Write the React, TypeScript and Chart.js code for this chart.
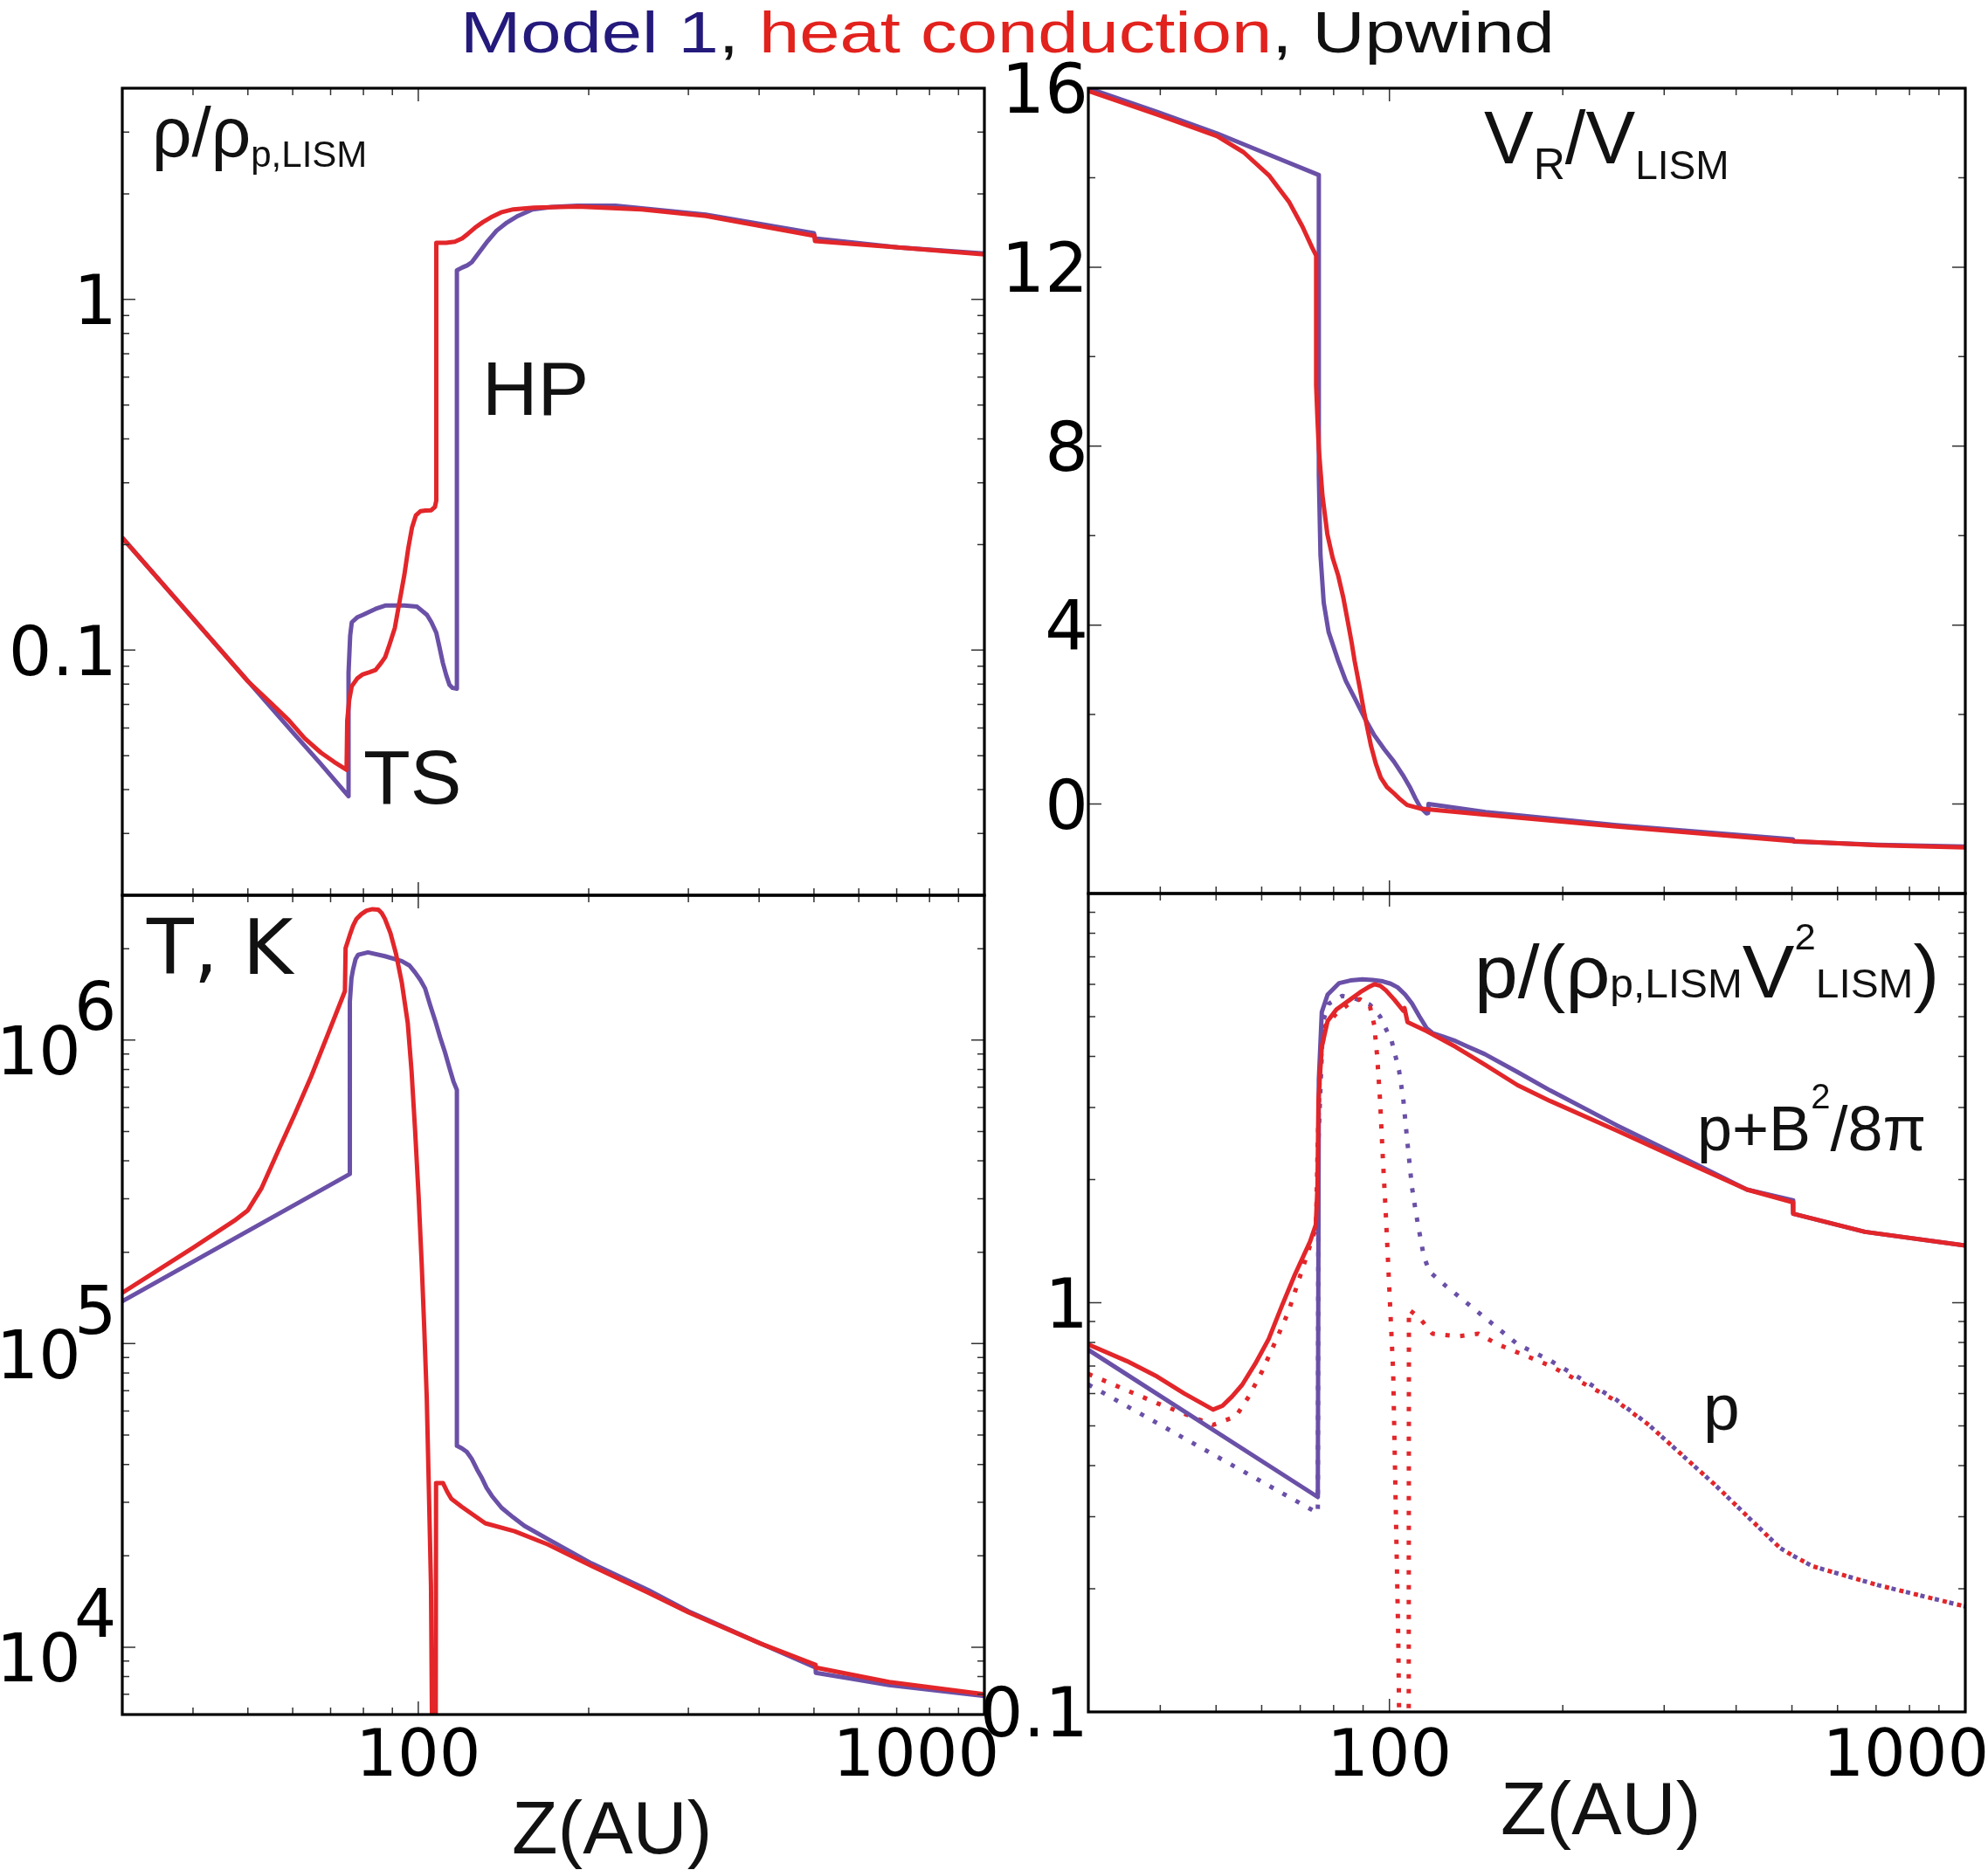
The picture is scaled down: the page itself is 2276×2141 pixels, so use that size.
import { useEffect, useRef } from 'react';
import type { ReactNode } from 'react';
import { Chart, registerables } from 'chart.js';
import type { ChartConfiguration, Plugin } from 'chart.js';

Chart.register(...registerables);

const PAGE_W = 2276;
const PAGE_H = 2141;

const MODEL1_COLOR = '#6a50a7';
const HEAT_COLOR = '#e2262a';
const TICK_FONT = '"DejaVu Sans", sans-serif';
const TEXT_FONT = '"Liberation Sans", Arial, sans-serif';

type Pt = [number, number];

// Z axis (AU), the same for all four panels
const zMin = 30;
const zMax = 1000;
const zTicks = [40, 50, 60, 70, 80, 90, 100, 200, 300, 400, 500, 600, 700, 800, 900, 1000];
const zLabels = [100, 1000];

// density rho / rho_p,LISM
const rhoTicks = [0.02, 0.03, 0.04, 0.05, 0.06, 0.07, 0.08, 0.09, 0.1, 0.2, 0.3, 0.4, 0.5, 0.6, 0.7, 0.8, 0.9, 1, 2, 3, 4];
const rhoLabels = [0.1, 1];
const rhoModel1: Pt[] = [
  [30, 0.209], [40, 0.123], [52, 0.0759], [60, 0.0583], [67, 0.0477], [75.3, 0.0383],
  [75.3, 0.0861], [75.8, 0.11], [76.3, 0.12], [78, 0.124], [79.8, 0.126], [84, 0.131],
  [87.4, 0.134], [94.5, 0.134], [99.5, 0.133], [103.6, 0.126], [105.5, 0.12], [107.6, 0.112],
  [109, 0.102], [110.5, 0.092], [112, 0.085], [113.5, 0.0797], [115, 0.078], [117, 0.0776],
  [117, 1.21], [119.5, 1.232], [122, 1.25], [124.3, 1.276], [128, 1.36], [132.6, 1.466],
  [137.5, 1.57], [143.4, 1.656], [150, 1.73], [159.2, 1.806], [172, 1.835], [191, 1.85],
  [223, 1.85], [322, 1.745], [500, 1.545], [502, 1.492], [704, 1.406], [1000, 1.352],
];
const rhoHeat: Pt[] = [
  [30, 0.209], [40, 0.123], [50, 0.0815], [55, 0.0705], [59.1, 0.063], [63, 0.056],
  [67.3, 0.051], [71, 0.048], [74.7, 0.0456], [74.9, 0.063], [75.5, 0.072], [76.3, 0.0789],
  [78, 0.083], [79.8, 0.0853], [82, 0.0865], [84, 0.0877], [86, 0.092], [87.4, 0.0955],
  [89, 0.104], [90.9, 0.1157], [92.7, 0.138], [94.5, 0.164], [96, 0.195], [97.5, 0.224],
  [99, 0.242], [100.9, 0.249], [103, 0.25], [105.4, 0.2505], [107, 0.256], [107.6, 0.267],
  [107.6, 1.45], [112, 1.45], [116, 1.46], [119.5, 1.492], [122.5, 1.54], [125.9, 1.6],
  [130, 1.66], [134.4, 1.714], [140, 1.77], [147.2, 1.806], [160, 1.825], [191, 1.838],
  [248, 1.806], [322, 1.73], [501, 1.518], [502, 1.466], [704, 1.406], [1000, 1.344],
];

// radial velocity V_R / V_LISM
const vTicks = [-2, 0, 2, 4, 6, 8, 10, 12, 14, 16];
const vLabels = [0, 4, 8, 12, 16];
const vModel1: Pt[] = [
  [30, 16.0], [39.7, 15.46], [50.2, 14.99], [60.3, 14.57], [75.4, 14.06], [75.4, 7.35],
  [75.9, 5.57], [76.9, 4.5], [78.4, 3.85], [81.5, 3.2], [84, 2.75], [87, 2.37], [90.5, 1.93],
  [94.1, 1.54], [98, 1.22], [101.8, 0.95], [105.5, 0.65], [108.7, 0.36], [111, 0.12],
  [113, -0.06], [116, -0.21], [116.7, -0.2], [116.9, 0.0], [146.9, -0.18], [247.9, -0.47],
  [502, -0.79], [504, -0.84], [706, -0.91], [1000, -0.95],
];
const vHeat: Pt[] = [
  [30, 15.94], [39.7, 15.4], [50.2, 14.93], [55.8, 14.57], [61.9, 14.04], [67, 13.45],
  [70.6, 12.91], [73.4, 12.44], [74.6, 12.26], [74.6, 9.36], [75.0, 8.6], [75.4, 7.94],
  [76.5, 6.9], [78, 6.04], [79.7, 5.5], [81.5, 5.1], [83.2, 4.6], [84.8, 4.03], [86, 3.6],
  [87, 3.2], [88.8, 2.6], [90.5, 2.01], [92.9, 1.3], [94.7, 0.9], [96.6, 0.59], [99, 0.38],
  [101.8, 0.24], [104.5, 0.1], [107.3, -0.02], [113, -0.1], [146.9, -0.24], [247.9, -0.5],
  [502, -0.83], [706, -0.92], [1000, -0.97],
];

// temperature T, K
const tTicks = [
  6000, 7000, 8000, 9000, 1e4, 2e4, 3e4, 4e4, 5e4, 6e4, 7e4, 8e4, 9e4, 1e5,
  2e5, 3e5, 4e5, 5e5, 6e5, 7e5, 8e5, 9e5, 1e6, 2e6, 3e6,
];
const tLabels = [1e4, 1e5, 1e6];
const tModel1: Pt[] = [
  [30, 1.38e5], [75.7, 3.62e5], [75.7, 1.34e6], [76.2, 1.6e6], [76.7, 1.71e6], [77.5, 1.85e6],
  [78.3, 1.91e6], [81.5, 1.945e6], [87.3, 1.89e6], [93.5, 1.82e6], [96.5, 1.76e6], [98.7, 1.67e6],
  [100.8, 1.58e6], [102.8, 1.48e6], [105, 1.3e6], [107.1, 1.16e6], [109.3, 1.02e6], [111.5, 9.1e5],
  [113.5, 8.1e5], [115.4, 7.3e5], [117, 6.85e5], [117, 4.61e4], [119.4, 4.52e4], [121.8, 4.4e4],
  [124.3, 4.17e4], [127, 3.85e4], [129.6, 3.6e4], [132, 3.35e4], [134.9, 3.15e4], [140.3, 2.88e4],
  [147, 2.68e4], [154, 2.51e4], [169.4, 2.27e4], [202.2, 1.89e4], [254.8, 1.543e4], [300, 1.313e4],
  [401.9, 1.029e4], [503.3, 8570], [503.8, 8230], [576.5, 7900], [678.6, 7500], [1000, 6910],
];
const tHeat: Pt[] = [
  [30, 1.47e5], [40, 2.07e5], [47.3, 2.54e5], [50, 2.75e5], [52.8, 3.24e5], [56.5, 4.3e5],
  [60.5, 5.7e5], [64.7, 7.6e5], [69.3, 1.05e6], [74.2, 1.45e6], [74.4, 2.01e6], [75.7, 2.22e6],
  [76.7, 2.38e6], [77.8, 2.51e6], [79.3, 2.6e6], [81, 2.67e6], [83, 2.7e6], [85, 2.69e6],
  [86.2, 2.62e6], [87.3, 2.51e6], [89.3, 2.25e6], [91.3, 1.93e6], [93.5, 1.55e6], [95.8, 1.14e6],
  [97.3, 7.9e5], [98.7, 5.06e5], [100.1, 3.1e5], [101.4, 1.83e5], [102.5, 1.1e5], [103.5, 6.65e4],
  [104.4, 3.3e4], [105.3, 1.6e4], [106.0, 3000], [107.3, 3000], [107.5, 3.47e4], [110.6, 3.47e4],
  [112.5, 3.25e4], [114.4, 3.08e4], [119.4, 2.9e4], [131.3, 2.56e4], [147.9, 2.41e4], [169.4, 2.18e4],
  [202.2, 1.853e4], [254.8, 1.512e4], [300, 1.302e4], [401.9, 1.029e4], [503.3, 8750], [503.8, 8570],
  [678.6, 7680], [1000, 7000],
];

// pressure p / (rho_p,LISM V^2_LISM)
const pTicks = [0.1, 0.2, 0.3, 0.4, 0.5, 0.6, 0.7, 0.8, 0.9, 1, 2, 3, 4, 5, 6, 7, 8, 9, 10];
const pLabels = [0.1, 1];
const pTotalModel1: Pt[] = [
  [30, 0.767], [75.1, 0.335], [75.4, 3.5], [76.3, 5.13], [78.1, 5.66], [81.8, 6.04],
  [85.5, 6.13], [89.8, 6.17], [93.5, 6.15], [97.4, 6.1], [100.5, 6.02], [103.3, 5.9], [106.5, 5.66],
  [109.4, 5.39], [112.8, 5.0], [116, 4.69], [118.8, 4.56], [124, 4.47], [130.3, 4.36], [137, 4.22],
  [146.4, 4.05], [167, 3.66], [190.3, 3.3], [247.4, 2.72], [321.5, 2.27], [417.8, 1.89], [501.8, 1.78],
  [502.5, 1.65], [669.6, 1.49], [1000, 1.38],
];
const pTotalHeat: Pt[] = [
  [30, 0.791], [35, 0.72], [39.5, 0.66], [44, 0.6], [49.4, 0.548], [51.3, 0.56], [53.3, 0.59],
  [55.5, 0.63], [58.5, 0.71], [61.7, 0.815], [65, 0.98], [68.5, 1.17], [72.8, 1.41], [74.5, 1.55],
  [75.0, 1.92], [75.3, 3.14], [76.3, 4.22], [78.1, 4.88], [80.9, 5.21], [85.7, 5.52], [89, 5.74],
  [91.9, 5.9], [94.1, 6.0], [96.4, 5.95], [98.6, 5.8], [102, 5.5], [105.7, 5.17], [106.2, 5.25],
  [107.5, 4.85], [116, 4.61], [130.3, 4.22], [146.4, 3.82], [167, 3.4], [190.3, 3.11], [247.4, 2.64],
  [321.5, 2.23], [417.8, 1.89], [501.8, 1.76], [502.5, 1.65], [669.6, 1.49], [1000, 1.38],
];
const pThermalModel1: Pt[] = [
  [30, 0.631], [75.1, 0.306], [75.3, 2.5], [76.7, 4.88], [78.5, 5.38], [82.8, 5.62], [87.7, 5.52],
  [92.5, 5.35], [96.3, 5.01], [100.9, 4.36], [103.9, 3.7], [105.7, 3.14], [107.5, 2.45], [109.4, 1.92],
  [111.4, 1.63], [114.7, 1.3], [117.4, 1.19], [125.2, 1.1], [135.4, 1.006], [146.5, 0.919],
  [167, 0.791], [190.3, 0.722], [247.4, 0.58], [282, 0.503], [366, 0.361], [476, 0.252],
  [501.8, 0.241], [543, 0.227], [706, 0.204], [1000, 0.181],
];
const pThermalHeat: Pt[] = [
  [30, 0.67], [39.5, 0.568], [49.4, 0.503], [54.1, 0.527], [57, 0.59], [60.1, 0.68], [63.3, 0.8],
  [66.7, 0.947], [70.5, 1.2], [74.1, 1.488], [74.6, 1.6], [75.1, 2.5], [75.8, 3.8], [77.2, 4.73],
  [80.9, 5.09], [84.7, 5.35], [88.8, 5.52], [92.5, 5.3], [94.1, 4.77], [95.2, 4.01], [96.3, 3.14],
  [97.4, 2.26], [98.6, 1.63], [99.7, 1.17], [101.5, 0.68], [103.6, 0.151], [104.5, 0.05], [108, 0.05],
  [108.1, 0.962], [112.7, 0.919], [118.8, 0.84], [131.9, 0.828], [142.7, 0.84], [154.3, 0.791],
  [190.3, 0.701], [247.4, 0.576], [282, 0.503], [366, 0.361], [476, 0.252], [501.8, 0.241],
  [543, 0.227], [706, 0.204], [1000, 0.181],
];

type Series = { data: Pt[]; color: string; dotted?: boolean; order: number };

type Panel = {
  id: string;
  box: { x: number; y: number; w: number; h: number };
  area: { left: number; top: number; right: number; bottom: number };
  yType: 'logarithmic' | 'linear';
  yMin: number;
  yMax: number;
  yTicks: number[];
  yLabels: number[];
  powLabels?: boolean;
  showZLabels: boolean;
  zOverflow: number;
  yInkRight: number;
  series: Series[];
};

const Z_LABEL_BASELINE = 2033;

const panels: Panel[] = [
  {
    id: 'rho',
    box: { x: 0, y: 60, w: 1200, h: 1000 },
    area: { left: 140, top: 101, right: 1127, bottom: 1025 },
    yType: 'logarithmic', yMin: 0.02, yMax: 4,
    yTicks: rhoTicks, yLabels: rhoLabels,
    showZLabels: false, zOverflow: 12, yInkRight: 128,
    series: [
      { data: rhoModel1, color: MODEL1_COLOR, order: 1 },
      { data: rhoHeat, color: HEAT_COLOR, order: 0 },
    ],
  },
  {
    id: 'v',
    box: { x: 1100, y: 60, w: 1176, h: 1000 },
    area: { left: 1246, top: 101, right: 2250, bottom: 1023 },
    yType: 'linear', yMin: -2, yMax: 16,
    yTicks: vTicks, yLabels: vLabels,
    showZLabels: false, zOverflow: 22, yInkRight: 1240,
    series: [
      { data: vModel1, color: MODEL1_COLOR, order: 1 },
      { data: vHeat, color: HEAT_COLOR, order: 0 },
    ],
  },
  {
    id: 't',
    box: { x: 0, y: 1000, w: 1200, h: 1141 },
    area: { left: 140, top: 1025, right: 1127, bottom: 1963 },
    yType: 'logarithmic', yMin: 6000, yMax: 3e6,
    yTicks: tTicks, yLabels: tLabels, powLabels: true,
    showZLabels: true, zOverflow: 12, yInkRight: 128,
    series: [
      { data: tModel1, color: MODEL1_COLOR, order: 1 },
      { data: tHeat, color: HEAT_COLOR, order: 0 },
    ],
  },
  {
    id: 'p',
    box: { x: 1100, y: 1000, w: 1176, h: 1141 },
    area: { left: 1246, top: 1023, right: 2250, bottom: 1960 },
    yType: 'logarithmic', yMin: 0.1, yMax: 10,
    yTicks: pTicks, yLabels: pLabels,
    showZLabels: true, zOverflow: 22, yInkRight: 1240,
    series: [
      { data: pThermalModel1, color: MODEL1_COLOR, dotted: true, order: 3 },
      { data: pThermalHeat, color: HEAT_COLOR, dotted: true, order: 2 },
      { data: pTotalModel1, color: MODEL1_COLOR, order: 1 },
      { data: pTotalHeat, color: HEAT_COLOR, order: 0 },
    ],
  },
];

// frame, inward ticks on all four sides, and tick labels
function framePlugin(p: Panel): Plugin<'line'> {
  return {
    id: 'frame_' + p.id,
    afterDatasetsDraw(chart) {
      const { ctx, chartArea: a } = chart;
      const xs = chart.scales.x;
      const ys = chart.scales.y;
      ctx.save();
      ctx.strokeStyle = '#333';
      ctx.lineWidth = 1.5;
      ctx.beginPath();
      for (const v of zTicks) {
        const px = xs.getPixelForValue(v);
        const len = zLabels.includes(v) ? 15 : 8;
        ctx.moveTo(px, a.bottom);
        ctx.lineTo(px, a.bottom - len);
        ctx.moveTo(px, a.top);
        ctx.lineTo(px, a.top + len);
      }
      for (const v of p.yTicks) {
        const py = ys.getPixelForValue(v);
        const len = p.yLabels.includes(v) ? 15 : 8;
        ctx.moveTo(a.left, py);
        ctx.lineTo(a.left + len, py);
        ctx.moveTo(a.right, py);
        ctx.lineTo(a.right - len, py);
      }
      ctx.stroke();

      ctx.strokeStyle = '#000';
      ctx.lineWidth = 3.2;
      ctx.strokeRect(a.left, a.top, a.right - a.left, a.bottom - a.top);

      ctx.fillStyle = '#000';
      ctx.textBaseline = 'alphabetic';
      if (p.showZLabels) {
        const fs = 75;
        ctx.font = `${fs}px ${TICK_FONT}`;
        ctx.textAlign = 'center';
        for (const v of zLabels) {
          const s = String(v);
          const w = ctx.measureText(s).width;
          const cx = Math.min(xs.getPixelForValue(v), a.right + p.zOverflow - w / 2 + 0.07 * fs);
          ctx.fillText(s, cx, Z_LABEL_BASELINE - p.box.y);
        }
      }

      const right = p.yInkRight - p.box.x;
      for (const v of p.yLabels) {
        const py = ys.getPixelForValue(v);
        if (p.powLabels) {
          const fs = 76;
          ctx.font = `${fs}px ${TICK_FONT}`;
          ctx.textAlign = 'left';
          const exp = String(Math.round(Math.log10(v)));
          const wb = ctx.measureText('10').width - 0.1 * fs;
          const we = ctx.measureText(exp).width - 0.07 * fs;
          const x = right - wb - we;
          ctx.fillText('10', x, py + 0.52 * fs);
          ctx.fillText(exp, x + wb, py - 0.15 * fs);
        } else {
          const fs = 78;
          ctx.font = `${fs}px ${TICK_FONT}`;
          ctx.textAlign = 'right';
          ctx.fillText(String(v), right + 0.075 * fs, py + 0.3645 * fs);
        }
      }
      ctx.restore();
    },
  };
}

function buildConfig(p: Panel): ChartConfiguration<'line'> {
  return {
    type: 'line',
    data: {
      datasets: p.series.map((s) => ({
        data: s.data.map(([x, y]) => ({ x, y })),
        borderColor: s.color,
        borderWidth: 5,
        borderDash: s.dotted ? [5, 12] : [],
        borderJoinStyle: 'round',
        pointRadius: 0,
        fill: false,
        tension: 0,
        order: s.order,
      })),
    },
    options: {
      animation: false,
      responsive: false,
      devicePixelRatio: 1,
      events: [],
      layout: {
        padding: {
          left: p.area.left - p.box.x,
          top: p.area.top - p.box.y,
          right: p.box.x + p.box.w - p.area.right,
          bottom: p.box.y + p.box.h - p.area.bottom,
        },
      },
      plugins: { legend: { display: false }, tooltip: { enabled: false } },
      scales: {
        x: { type: 'logarithmic', min: zMin, max: zMax, display: false },
        y: { type: p.yType, min: p.yMin, max: p.yMax, display: false },
      },
    },
    plugins: [framePlugin(p)],
  };
}

function PanelChart({ panel }: { panel: Panel }) {
  const canvasRef = useRef<HTMLCanvasElement>(null);

  useEffect(() => {
    if (!canvasRef.current) return;
    const chart = new Chart(canvasRef.current, buildConfig(panel));
    return () => chart.destroy();
  }, [panel]);

  const { x, y, w, h } = panel.box;
  return (
    <canvas
      ref={canvasRef}
      width={w}
      height={h}
      style={{ position: 'absolute', left: x, top: y, width: w, height: h }}
    />
  );
}

type LabelProps = { x: number; base: number; size: number; font?: string; sx?: number; children: ReactNode };

// text placed by its baseline (line-height 1)
function Label({ x, base, size, font = TEXT_FONT, sx = 1, children }: LabelProps) {
  return (
    <div
      style={{
        position: 'absolute',
        left: x,
        top: base - 0.8465 * size,
        fontSize: size,
        lineHeight: 1,
        fontFamily: font,
        whiteSpace: 'nowrap',
        color: '#111',
        transform: sx !== 1 ? `scaleX(${sx})` : undefined,
        transformOrigin: '0 0',
      }}
    >
      {children}
    </div>
  );
}

function Shift({ size, dy = 0, children }: { size: number; dy?: number; children: ReactNode }) {
  return <span style={{ fontSize: size, position: 'relative', top: dy }}>{children}</span>;
}

export default function App() {
  return (
    <div style={{ position: 'absolute', left: 0, top: 0, width: PAGE_W, height: PAGE_H, background: '#fff', overflow: 'hidden' }}>
      {panels.map((p) => (
        <PanelChart key={p.id} panel={p} />
      ))}

      <Label x={527} base={60} size={66} sx={1.26}>
        <span style={{ color: '#241a7c' }}>Model 1</span>, <span style={{ color: '#e2221d' }}>heat conduction</span>, Upwind
      </Label>

      <Label x={174} base={180} size={80}>
        ρ/ρ<Shift size={42} dy={12}>p,LISM</Shift>
      </Label>
      <Label x={552} base={475} size={88}>HP</Label>
      <Label x={416} base={920} size={88}>TS</Label>

      <Label x={1699} base={187} size={85}>
        V<Shift size={50} dy={18}>R</Shift>/V<Shift size={46} dy={18}>LISM</Shift>
      </Label>

      <Label x={168} base={1115} size={88} font={TICK_FONT}>T, K</Label>

      <Label x={1688} base={1142} size={86} sx={1.04}>
        p/(ρ<Shift size={46}>p,LISM</Shift>V<Shift size={42} dy={-55}>2</Shift><Shift size={46}>LISM</Shift>)
      </Label>
      <Label x={1943} base={1317} size={72}>
        p+B<Shift size={40} dy={-48}>2</Shift>/8π
      </Label>
      <Label x={1950} base={1637} size={75}>p</Label>

      <Label x={586} base={2122} size={86}>Z(AU)</Label>
      <Label x={1718} base={2100} size={86}>Z(AU)</Label>
    </div>
  );
}
